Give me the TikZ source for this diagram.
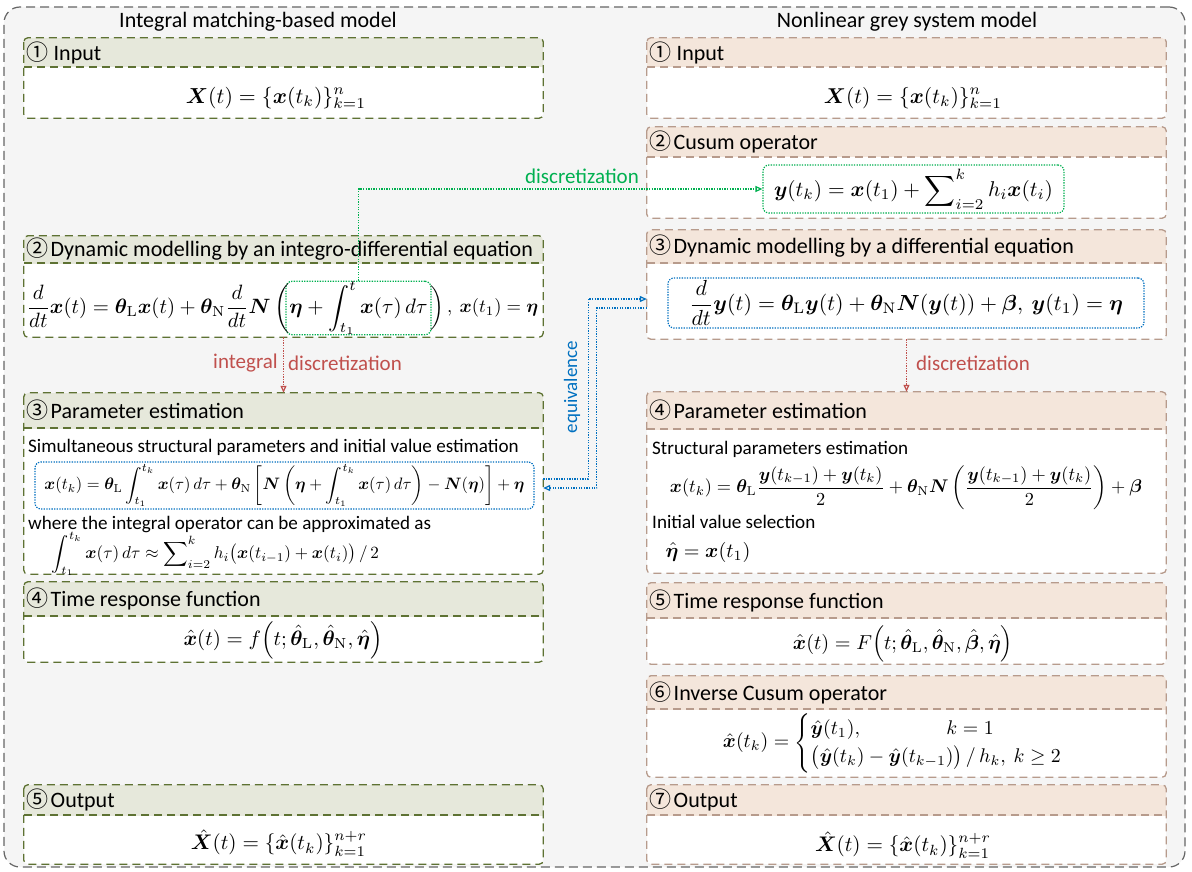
\documentclass[tikz,border=0pt]{standalone}
\usepackage{amsmath}
\usepackage{bm}
\usepackage[no-math]{fontspec}
\setmainfont{Carlito}
\newfontfamily\cfont{Noto Sans CJK SC}
\usetikzlibrary{arrows.meta,fit}
\definecolor{lline}{HTML}{5E7233}
\definecolor{lhead}{HTML}{E6E8DB}
\definecolor{rline}{HTML}{B79B8C}
\definecolor{rhead}{HTML}{F4E6DB}
\definecolor{frameline}{HTML}{666666}
\definecolor{framefill}{HTML}{F5F5F5}
\definecolor{cgreen}{HTML}{00B050}
\definecolor{cred}{HTML}{C0504D}
\definecolor{cblue}{HTML}{0070C0}
\newcommand\bfx{\bm{x}}
\newcommand\bfy{\bm{y}}
\newcommand\bfX{\bm{X}}
\newcommand\bfN{\bm{N}}
\newcommand\bftheta{\bm{\theta}}
\newcommand\bfeta{\bm{\eta}}
\newcommand\bfbeta{\bm{\beta}}
\newcommand\eqw[2]{\resizebox{#1pt}{!}{$\displaystyle #2$}}
\newcommand\cnum[1]{{\cfont #1}\hspace{2.5pt}}
\tikzset{
  boxdash/.style={line width=1.3pt, dash pattern=on 8pt off 5pt},
  dotline/.style={line width=1.2pt, dash pattern=on 1.3pt off 1.3pt},
  headtext/.style={inner sep=0pt, font=\fontsize{22}{26}\selectfont},
  bodytext/.style={inner sep=0pt, font=\fontsize{19.1}{22}\selectfont},
  titletext/.style={inner sep=0pt, font=\fontsize{22}{26}\selectfont},
  labeltext/.style={inner sep=0pt, font=\fontsize{21}{25}\selectfont},
  eqnode/.style={inner sep=0pt},
  openarrow/.style={-{Triangle[open,length=7pt,width=6pt]}},
  greenbox/.style={draw=cgreen, dotline, rounded corners=6pt, inner sep=0pt},
  bluebox/.style={draw=cblue, dotline, rounded corners=6pt, inner sep=0pt},
}
\newcommand\mkpanel[8]{%
  \node[fit={(#2,#3)(#4,#6)}, inner sep=0pt, fill=white, rounded corners=4pt] (#1) {};
  \begin{scope}
    \clip (#2,#3) rectangle (#4,#5);
    \fill[#7head, rounded corners=4pt] (#2,#3) rectangle (#4,#6);
  \end{scope}
  \draw[#7line, boxdash] (#2,#5) -- (#4,#5);
  \draw[#7line, boxdash, rounded corners=4pt] (#1.north west) rectangle (#1.south east);
  \node[headtext, anchor=west] (#1-t) at ({#2+2},{(#3+#5)/2}) {#8};
}
\begin{document}
\begin{tikzpicture}[x=1pt,y=-1pt]
\useasboundingbox (0,0) rectangle (1192,872);
\node[fit={(4,7)(1185,867)}, inner sep=0pt, draw=frameline, fill=framefill, line width=1.2pt, dash pattern=on 9pt off 5pt, rounded corners=16pt] (frame) {};
\node[titletext, anchor=base] (ltitle) at (258,28) {Integral matching-based model};
\node[titletext, anchor=base] (rtitle) at (907,28) {Nonlinear grey system model};

% left column
\mkpanel{lb1}{24}{38}{543}{67}{118}{l}{\cnum{①}\hspace{3pt}Input}
\mkpanel{lb2}{24}{236}{543}{263}{337}{l}{\cnum{②}Dynamic modelling by an integro-differential equation}
\mkpanel{lb3}{24}{393}{543}{428}{574}{l}{\cnum{③}Parameter estimation}
\mkpanel{lb4}{24}{582}{543}{616}{662}{l}{\cnum{④}Time response function}
\mkpanel{lb5}{24}{785}{543}{815}{864}{l}{\cnum{⑤}Output}
% right column
\mkpanel{rb1}{647}{38}{1166}{67}{118}{r}{\cnum{①}\hspace{3pt}Input}
\mkpanel{rb2}{647}{127}{1166}{157}{218}{r}{\cnum{②}Cusum operator}
\mkpanel{rb3}{647}{230}{1166}{263}{339}{r}{\cnum{③}Dynamic modelling by a differential equation}
\mkpanel{rb4}{647}{392}{1166}{429}{573}{r}{\cnum{④}Parameter estimation}
\mkpanel{rb5}{647}{583}{1166}{618}{664}{r}{\cnum{⑤}Time response function}
\mkpanel{rb6}{647}{676}{1166}{709}{777}{r}{\cnum{⑥}Inverse Cusum operator}
\mkpanel{rb7}{647}{785}{1166}{815}{864}{r}{\cnum{⑦}Output}

% left equations
\node[eqnode] (l1eq) at (276,98) {\eqw{180}{\bfX(t)=\{\bfx(t_k)\}_{k=1}^{n}}};
\node[greenbox, minimum width=145pt, minimum height=48pt] (gint) at (358.5,308) {\eqw{138}{\bfeta+\int_{t_1}^{t}\bfx(\tau)\,d\tau}};
\node[eqnode, anchor=east] (l2left) at (292,308) {\eqw{265}{\frac{d}{dt}\bfx(t)=\bftheta_{\mathrm{L}}\bfx(t)+\bftheta_{\mathrm{N}}\frac{d}{dt}\bfN\left(\vphantom{\int_{t_1}^{t}}\right.}};
\node[eqnode, anchor=west] (l2right) at (428,308) {\eqw{110}{\left.\vphantom{\int_{t_1}^{t}}\right),\ \bfx(t_1)=\bfeta}};
\node[bodytext, anchor=west] (l3a) at (28,447) {Simultaneous structural parameters and initial value estimation};
\node[bluebox, minimum width=499pt, minimum height=47pt] (l3eq) at (284.5,485.5) {\eqw{480}{\bfx(t_k)=\bftheta_{\mathrm{L}}\int_{t_1}^{t_k}\bfx(\tau)\,d\tau+\bftheta_{\mathrm{N}}\left[\bfN\left(\bfeta+\int_{t_1}^{t_k}\bfx(\tau)\,d\tau\right)-\bfN(\bfeta)\right]+\bfeta}};
\node[bodytext, anchor=west] (l3b) at (28,525) {where the integral operator can be approximated as};
\node[eqnode] (l3c) at (215.5,554) {\eqw{327}{\int_{t_1}^{t_k}\bfx(\tau)\,d\tau\approx\sum\nolimits_{i=2}^{k}h_i\bigl(\bfx(t_{i-1})+\bfx(t_i)\bigr)\,/\,2}};
\node[eqnode] (l4eq) at (283,640) {\eqw{199}{\hat{\bfx}(t)=f\Bigl(t;\hat{\bftheta}_{\mathrm{L}},\hat{\bftheta}_{\mathrm{N}},\hat{\bfeta}\Bigr)}};
\node[eqnode] (l5eq) at (279,843) {\eqw{176}{\hat{\bfX}(t)=\{\hat{\bfx}(t_k)\}_{k=1}^{n+r}}};

% right equations
\node[eqnode] (r1eq) at (913,98) {\eqw{178}{\bfX(t)=\{\bfx(t_k)\}_{k=1}^{n}}};
\node[greenbox, minimum width=301pt, minimum height=48pt] (cusum) at (913.5,189) {\eqw{279}{\bfy(t_k)=\bfx(t_1)+\sum\nolimits_{i=2}^{k}h_i\bfx(t_i)}};
\node[bluebox, minimum width=476pt, minimum height=50pt] (r3eq) at (906,303) {\eqw{434}{\frac{d}{dt}\bfy(t)=\bftheta_{\mathrm{L}}\bfy(t)+\bftheta_{\mathrm{N}}\bfN(\bfy(t))+\bfbeta,\ \bfy(t_1)=\bfeta}};
\node[bodytext, anchor=west] (r4a) at (652,449) {Structural parameters estimation};
\node[eqnode] (r4eq) at (906,488) {\eqw{472}{\bfx(t_k)=\bftheta_{\mathrm{L}}\frac{\bfy(t_{k-1})+\bfy(t_k)}{2}+\bftheta_{\mathrm{N}}\bfN\left(\frac{\bfy(t_{k-1})+\bfy(t_k)}{2}\right)+\bfbeta}};
\node[bodytext, anchor=west] (r4b) at (652,522) {Initial value selection};
\node[eqnode] (r4c) at (708,552) {\eqw{85}{\hat{\bfeta}=\bfx(t_1)}};
\node[eqnode] (r5eq) at (903,644) {\eqw{220}{\hat{\bfx}(t)=F\Bigl(t;\hat{\bftheta}_{\mathrm{L}},\hat{\bftheta}_{\mathrm{N}},\hat{\bfbeta},\hat{\bfeta}\Bigr)}};
\node[eqnode] (r6eq) at (903,743) {\eqw{360}{\hat{\bfx}(t_k)=\begin{cases}\hat{\bfy}(t_1),\hspace{4.2em} k=1\\ \bigl(\hat{\bfy}(t_k)-\hat{\bfy}(t_{k-1})\bigr)\,/\,h_k,\ k\geq 2\end{cases}}};
\node[eqnode] (r7eq) at (903,845) {\eqw{176}{\hat{\bfX}(t)=\{\hat{\bfx}(t_k)\}_{k=1}^{n+r}}};

% connectors
\draw[cgreen, dotline, openarrow] (gint.north) |- (cusum.west);
\node[labeltext, text=cgreen, anchor=base east] (glab) at (639,184) {discretization};
\draw[cred, dotline, openarrow] (lb2.south) -- (lb3.north);
\node[labeltext, text=cred, anchor=east] (rlab1) at (278,363) {integral};
\node[labeltext, text=cred, anchor=west] (rlab2) at (288,363) {discretization};
\draw[cred, dotline, openarrow] (rb3.south) -- (rb4.north);
\node[labeltext, text=cred, anchor=west] (rlab3) at (916,363) {discretization};
\draw[cblue, dotline, openarrow] ([yshift=4.5pt]lb3.east) -- ++(45,0) |- ([yshift=-14.5pt]rb3.west);
\draw[cblue, dotline, openarrow] ([yshift=-23.5pt]rb3.west) -- ++(-50,0) |- ([yshift=-4.5pt]lb3.east);
\node[labeltext, text=cblue, rotate=90, font=\fontsize{19}{23}\selectfont] (eqv) at (572,387) {equivalence};
\end{tikzpicture}
\end{document}
